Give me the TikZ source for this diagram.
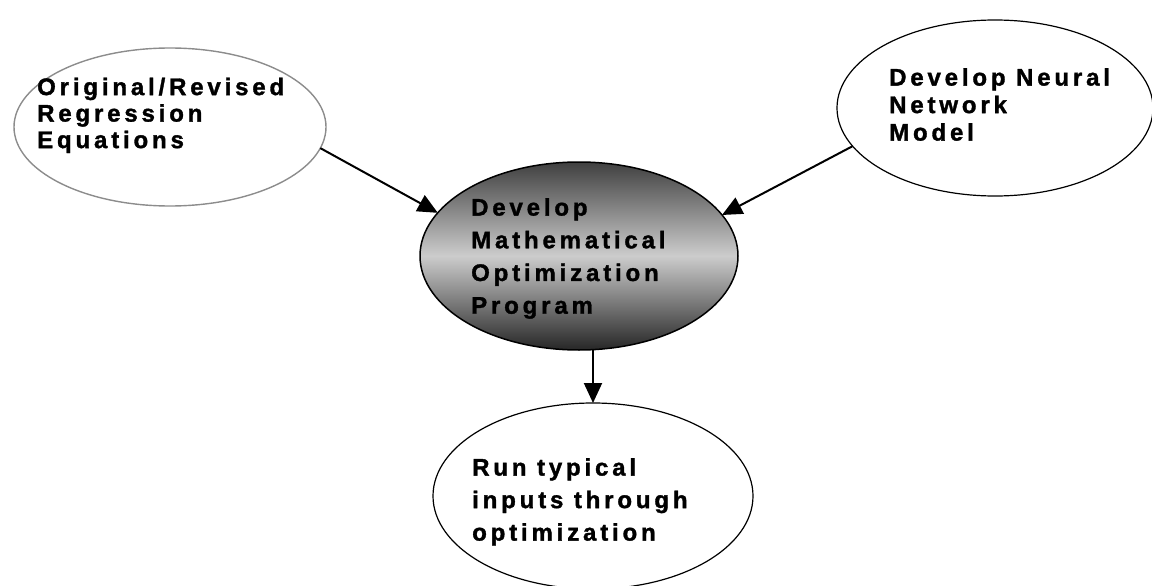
\documentclass[tikz,border=0pt]{standalone}
\usepackage{fontspec}
\setmainfont{Liberation Sans}
\newfontfamily\spacedfont[LetterSpace=16,FakeBold=1.4]{Liberation Sans Bold}
\usetikzlibrary{shapes.geometric,arrows.meta}

\tikzset{
  bubble/.style={ellipse, draw=black, line width=1.2pt, inner sep=0pt, outer sep=0pt},
  softbubble/.style={bubble, draw=black!45, line width=1.4pt},
  hubbubble/.style={bubble, line width=1.5pt,
    top color=black!75, bottom color=black!85, middle color=black!20},
  boxtext/.style={anchor=north west, inner sep=0pt, align=left,
    font=\spacedfont\fontsize{24}{#1}\selectfont},
  flow/.style={line width=2pt, -{Triangle[length=20pt,width=18pt]}}
}

\begin{document}
\begin{tikzpicture}[x=1pt,y=-1pt]
\useasboundingbox (0,0) rectangle (1152,586);
\clip (0,0) rectangle (1152,586);

% the four stages
\node[softbubble, minimum width=312pt, minimum height=158pt] (regr) at (170,127) {};
\node[bubble, minimum width=316pt, minimum height=176pt] (nnet) at (995,108) {};
\node[hubbubble, minimum width=318pt, minimum height=188pt] (opt) at (579,256) {};
\node[bubble, minimum width=320pt, minimum height=186pt] (runs) at (593,496) {};

% their captions
\node[boxtext=26.5pt] (regrtxt) at (37,77.5) {Original/Revised\\Regression\\Equations};
\node[boxtext=27.5pt] (nnettxt) at (889,68) {Develop Neural\\Network\\Model};
\node[boxtext=32.7pt] (opttxt) at (471,198) {Develop\\Mathematical\\Optimization\\Program};
\node[boxtext=32.5pt] (runstxt) at (472,458) {Run typical\\inputs through\\optimization};

% flow between the stages
\draw[flow] (regr.-8.5) -- (opt.163);
\draw[flow] (nnet.195.5) -- (opt.16);
\draw[flow] (opt.south -| runs.north) -- (runs.north);
\end{tikzpicture}
\end{document}
